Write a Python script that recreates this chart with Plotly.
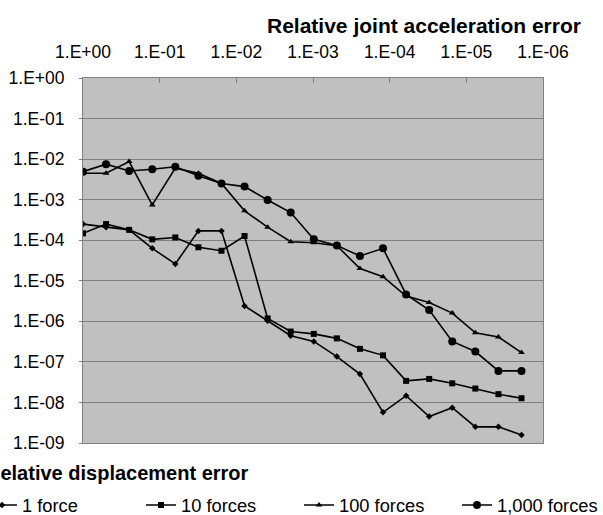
import plotly.graph_objects as go

# Relative joint acceleration error (x) - halving steps
accel_error = [1.0, 5e-1, 2.5e-1, 1.25e-1, 6.25e-2, 3.125e-2, 1.5625e-2, 7.8125e-3,
               3.90625e-3, 1.953125e-3, 9.765625e-4, 4.8828125e-4, 2.44140625e-4,
               1.220703125e-4, 6.103515625e-5, 3.0517578125e-5, 1.52587890625e-5,
               7.62939453125e-6, 3.814697265625e-6, 1.9073486328125e-6]

force_1 = [2.5e-4, 2.1e-4, 1.8e-4, 6.3e-5, 2.6e-5, 1.7e-4, 1.7e-4, 2.4e-6, 1.04e-6, 4.4e-7,
           3.2e-7, 1.35e-7, 5.0e-8, 5.7e-9, 1.47e-8, 4.5e-9, 7.4e-9, 2.5e-9, 2.5e-9, 1.58e-9]
force_10 = [1.48e-4, 2.5e-4, 1.8e-4, 1.05e-4, 1.17e-4, 6.7e-5, 5.5e-5, 1.27e-4, 1.18e-6, 5.6e-7,
            4.9e-7, 3.8e-7, 2.1e-7, 1.45e-7, 3.4e-8, 3.8e-8, 2.96e-8, 2.2e-8, 1.6e-8, 1.27e-8]
force_100 = [4.5e-3, 4.5e-3, 8.7e-3, 7.4e-4, 6.0e-3, 4.5e-3, 2.5e-3, 5.3e-4, 2.1e-4, 9.2e-5,
             8.7e-5, 7.3e-5, 2.0e-5, 1.26e-5, 4.2e-6, 2.9e-6, 1.6e-6, 5.2e-7, 4.1e-7, 1.7e-7]
force_1000 = [4.9e-3, 7.5e-3, 5.1e-3, 5.6e-3, 6.5e-3, 3.9e-3, 2.5e-3, 2.1e-3, 9.8e-4, 4.8e-4,
              1.05e-4, 7.4e-5, 4.1e-5, 6.3e-5, 4.6e-6, 1.9e-6, 3.2e-7, 1.8e-7, 6.0e-8, 6.0e-8]

series_names = ["1 force", "10 forces", "100 forces", "1,000 forces"]
x_tickvals = [1, 1e-1, 1e-2, 1e-3, 1e-4, 1e-5, 1e-6]
x_ticktext = ["1.E+00", "1.E-01", "1.E-02", "1.E-03", "1.E-04", "1.E-05", "1.E-06"]
y_tickvals = [1, 1e-1, 1e-2, 1e-3, 1e-4, 1e-5, 1e-6, 1e-7, 1e-8, 1e-9]
y_ticktext = ["1.E+00", "1.E-01", "1.E-02", "1.E-03", "1.E-04", "1.E-05", "1.E-06",
              "1.E-07", "1.E-08", "1.E-09"]

FONT = "Arial, Liberation Sans, sans-serif"

styles = [
    dict(symbol="diamond", size=5),
    dict(symbol="square", size=6),
    dict(symbol="triangle-up", size=6),
    dict(symbol="circle", size=8),
]
legend_ids = ["legend", "legend2", "legend3", "legend4"]
legend_x = [-0.2196, 0.1261, 0.4696, 0.8130]

fig = go.Figure()
for name, ys, st, lid in zip(series_names, [force_1, force_10, force_100, force_1000],
                             styles, legend_ids):
    fig.add_trace(go.Scatter(
        x=accel_error, y=ys, name=name, mode="lines+markers", legend=lid,
        line=dict(color="black", width=1.6),
        marker=dict(color="black", symbol=st["symbol"], size=st["size"]),
    ))

legend_common = dict(orientation="h", xanchor="left", y=-0.17, yanchor="middle",
                     font=dict(size=18.3), bgcolor="rgba(0,0,0,0)")
layout_legends = {lid: dict(x=lx, **legend_common) for lid, lx in zip(legend_ids, legend_x)}

fig.update_layout(
    width=603, height=515,
    margin=dict(l=83, r=60, t=78, b=72, autoexpand=False),
    paper_bgcolor="white", plot_bgcolor="#C0C0C0",
    font=dict(family=FONT, size=17.5, color="black"),
    showlegend=True,
    xaxis=dict(type="log", range=[0, -6], side="top", tickvals=x_tickvals, ticktext=x_ticktext,
               showgrid=False, ticks="inside", ticklen=5, tickcolor="#808080",
               ticklabelstandoff=12, automargin=False,
               showline=True, linecolor="#808080", linewidth=1, mirror=True, zeroline=False),
    yaxis=dict(type="log", range=[-9, 0], tickvals=y_tickvals, ticktext=y_ticktext,
               showgrid=True, gridcolor="#808080", gridwidth=1, ticks="outside", ticklen=3,
               tickcolor="#808080", showline=True, linecolor="#808080", linewidth=1, mirror=True,
               zeroline=False, ticklabelstandoff=11, automargin=False),
    annotations=[
        dict(text="<b>Relative joint acceleration error</b>", xref="paper", yref="paper",
             x=1.087, y=1.145, xanchor="right", yanchor="middle", showarrow=False,
             font=dict(size=21)),
        dict(text="<b>Relative displacement error</b>", xref="paper", yref="paper",
             x=0.365, y=-0.082, xanchor="right", yanchor="middle", showarrow=False,
             font=dict(size=20)),
    ],
    **layout_legends,
)

fig.write_html(
    "out.html",
    config={"displayModeBar": False},
    post_script="document.body.style.margin='0';document.body.style.padding='0';"
                "document.body.style.overflow='hidden';",
)
